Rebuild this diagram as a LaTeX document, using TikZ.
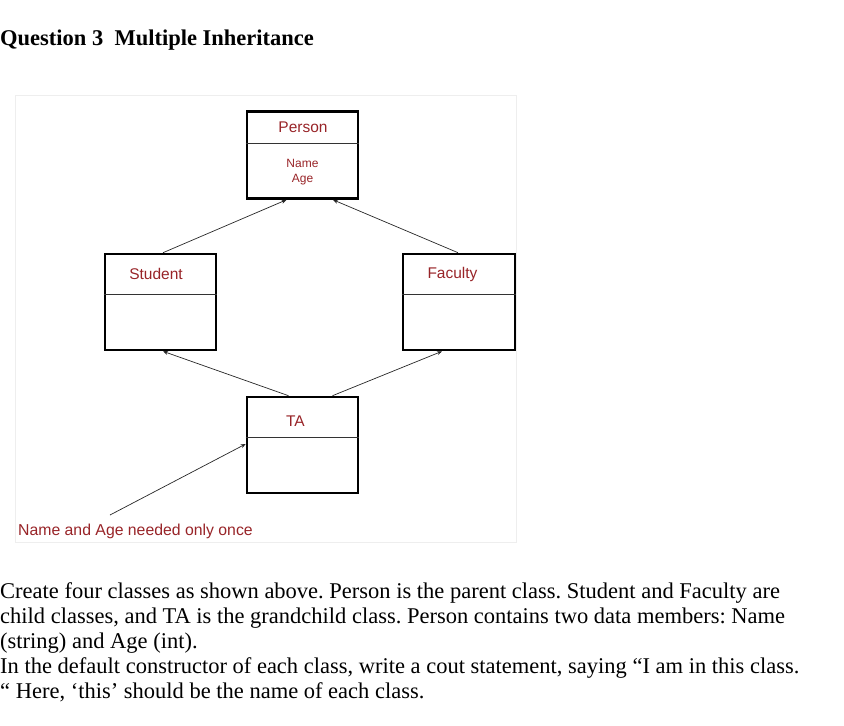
\documentclass[tikz,border=0pt]{standalone}
\usepackage{fontspec}
\setmainfont{Liberation Serif}
\newfontfamily\umlfont{Liberation Sans}
\usetikzlibrary{arrows.meta,calc}
\definecolor{umlred}{RGB}{152,36,40}
\definecolor{framegray}{RGB}{238,238,238}
\tikzset{
    classbox/.style = {draw, line width = 2.6pt, minimum width = 111pt, inner sep = 0pt},
    classname/.style = {font = \umlfont\fontsize{15.5}{18}\selectfont, text = umlred, inner sep = 0pt},
    member/.style = {font = \umlfont\fontsize{12}{14}\selectfont, text = umlred, inner sep = 0pt},
    divider/.style = {draw = black!80, line width = 0.8pt},
    inherit/.style = {draw = black!85, line width = 0.7pt, -{Stealth[length = 5pt, width = 4pt]}},
    bodyline/.style = {anchor = base west, inner sep = 0pt, font = \frenchspacing\fontsize{22.5}{25}\selectfont}
}
\begin{document}
\begin{tikzpicture}[x = 1pt, y = -1pt]
    \useasboundingbox (0,0) rectangle (844,726);
    \node[anchor = base west, inner sep = 0pt, font = \bfseries\fontsize{22.5}{27}\selectfont] (title) at (0,45) {Question 3\hspace{0.5em}Multiple Inheritance};
    % diagram frame
    \draw[framegray, line width = 1pt] (15,95) rectangle (516,542);
    % classes
    \node[classbox, minimum height = 87pt] (person) at (302.5,155) {};
    \node[classbox, minimum height = 96pt] (student) at (160.5,302) {};
    \node[classbox, minimum height = 96pt, minimum width = 112pt] (faculty) at (459,302) {};
    \node[classbox, minimum height = 96pt] (ta) at (302.5,445) {};
    \draw[divider] (person.west |- 0,143) -- (person.east |- 0,143);
    \draw[divider] (student.west |- 0,294) -- (student.east |- 0,294);
    \draw[divider] (faculty.west |- 0,294) -- (faculty.east |- 0,294);
    \draw[divider] (ta.west |- 0,437) -- (ta.east |- 0,437);
    \begin{scope}[every node/.append style = {classname}]
        \node (personname) at (303,127) {Person};
        \node (studentname) at (156,274) {Student};
        \node (facultyname) at (452.5,274) {Faculty};
        \node (taname) at (295.5,421) {TA};
    \end{scope}
    \node[member] (attrname) at (302.5,163) {Name};
    \node[member] (attrage) at (302.5,180) {Age};
    % inheritance arrows
    \draw[inherit] ([xshift = 2.5pt]student.north) -- ([xshift = -16pt]person.south);
    \draw[inherit] ([xshift = -1pt]faculty.north) -- ([xshift = 30.5pt]person.south);
    \draw[inherit] ([xshift = -14pt]ta.north) -- ([xshift = 2.5pt]student.south);
    \draw[inherit] ([xshift = 30pt]ta.north) -- ([xshift = -17pt]faculty.south);
    % note
    \node[anchor = base west, inner sep = 0pt, font = \umlfont\fontsize{15.8}{18}\selectfont, text = umlred] (note) at (18,535) {Name and Age needed only once};
    \coordinate (notetip) at (110,515);
    \draw[inherit] (notetip) -- ([yshift = 1pt]ta.west);
    % question text
    \node[bodyline] (line1) at (0,598) {Create four classes as shown above. Person is the parent class. Student and Faculty are};
    \node[bodyline] (line2) at (0,623) {child classes, and TA is the grandchild class. Person contains two data members: Name};
    \node[bodyline] (line3) at (0,648) {(string) and Age (int).};
    \node[bodyline] (line4) at (0,673) {In the default constructor of each class, write a cout statement, saying “I am in this class.};
    \node[bodyline] (line5) at (0,698) {“ Here, ‘this’ should be the name of each class.};
\end{tikzpicture}
\end{document}
